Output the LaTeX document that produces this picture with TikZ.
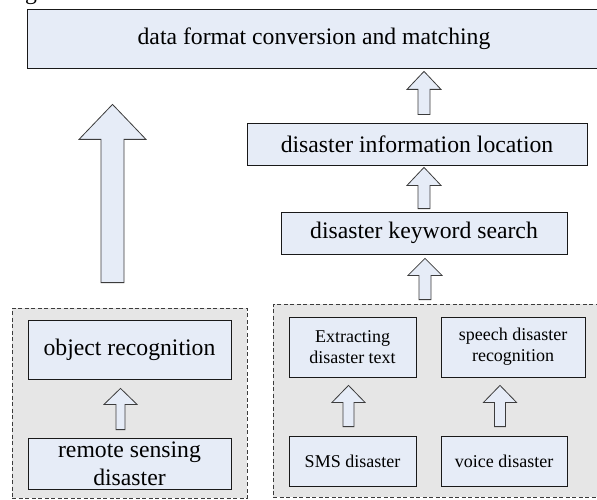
\documentclass[tikz,border=0pt]{standalone}
\usepackage{fontspec}
\setmainfont{Liberation Serif}
\usetikzlibrary{calc}
\definecolor{boxblue}{RGB}{230,236,247}
\definecolor{groupgray}{RGB}{230,230,230}
\definecolor{edgegray}{RGB}{60,60,60}
\tikzset{
  bigtext/.style={font=\fontsize{23.7}{28}\selectfont},
  smalltext/.style={font=\fontsize{18}{21}\selectfont},
  stepbox/.style={draw=black!90, line width=0.8pt, fill=boxblue, inner sep=2pt, align=center},
  groupbox/.style={draw=edgegray, line width=0.8pt, dash pattern=on 4pt off 2.5pt, fill=groupgray, inner sep=0pt},
  blockarr/.style={draw=edgegray, line width=0.8pt, fill=boxblue, line join=miter},
}
% #1 source node, #2 target node, #3 x of arrow axis, #4 gap above source,
% #5 gap below target, #6 head half width, #7 shaft half width, #8 head length
\newcommand\blockarrow[8]{%
  \draw[blockarr] let \p1=($(#3,0 |- #1.north)+(0,#4)$),
                      \p2=($(#3,0 |- #2.south)+(0,-#5)$) in
   (\x1-#7pt,\y1) -- (\x1-#7pt,\y2-#8pt) -- (\x1-#6pt,\y2-#8pt) -- (\x1,\y2)
   -- (\x1+#6pt,\y2-#8pt) -- (\x1+#7pt,\y2-#8pt) -- (\x1+#7pt,\y1) -- cycle;}
\begin{document}
\begin{tikzpicture}[x=1pt,y=1pt]
\useasboundingbox (0,0) rectangle (597,499);
% partly visible caption letter at the top edge
\node[bigtext, anchor=base west, inner sep=0pt] (frag) at (25,499) {g};
% groups
\node[groupbox, minimum width=235, minimum height=190] (leftgrp) at (129.5,96) {};
\node[groupbox, minimum width=330, minimum height=193] (rightgrp) at (438,98.5) {};
% boxes
\node[stepbox, bigtext, minimum width=574, minimum height=59] (top) at (314,460.5) {data format conversion and matching};
\node[stepbox, bigtext, minimum width=340, minimum height=42] (info) at (417,355) {disaster information location};
\node[stepbox, bigtext, minimum width=286, minimum height=42] (kw) at (424,266) {disaster keyword search};
\node[stepbox, bigtext, minimum width=203, minimum height=59] (obj) at (129.5,149.5) {object recognition};
\node[stepbox, bigtext, minimum width=203, minimum height=51, inner sep=0pt] (rs) at (129.5,35.5) {remote sensing\\disaster};
\node[stepbox, smalltext, minimum width=127, minimum height=60] (ext) at (352.5,152) {Extracting\\disaster text};
\node[stepbox, smalltext, minimum width=144, minimum height=60] (sp) at (513,152) {speech disaster\\recognition};
\node[stepbox, smalltext, minimum width=127, minimum height=50] (sms) at (352.5,38) {SMS disaster};
\node[stepbox, smalltext, minimum width=126, minimum height=50] (voice) at (504,38) {voice disaster};
% block arrows
\blockarrow{info}{top}{424}{8}{3}{17}{6}{18}
\blockarrow{kw}{info}{424}{3}{2}{17}{6}{18}
\blockarrow{rightgrp}{kw}{425}{4}{4}{17}{6}{17}
\blockarrow{leftgrp}{top}{112.5}{25}{36}{33.5}{11.5}{35}
\blockarrow{rs}{obj}{120.5}{8}{9}{16.5}{4.5}{16}
\blockarrow{sms}{ext}{348.5}{9}{8}{16.5}{5.5}{17}
\blockarrow{voice}{sp}{500}{9}{8}{16.5}{5.5}{17}
\end{tikzpicture}
\end{document}
